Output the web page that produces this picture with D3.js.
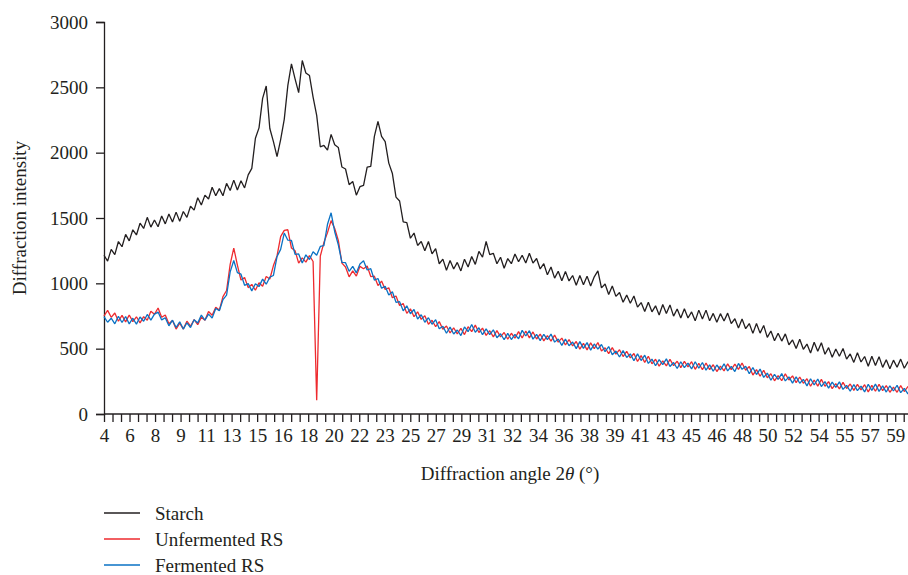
<!DOCTYPE html>
<html>
<head>
<meta charset="utf-8">
<script src="https://cdn.jsdelivr.net/npm/d3@7/dist/d3.min.js"></script>
<style>
  body { margin: 0; background: #fff; }
  text { font-family: "Liberation Serif", "Times New Roman", serif; fill: #231f20; }
</style>
</head>
<body>
<div id="chart"></div>
<script>
// canvas
const width = 908,
  height = 575

// diffraction angle grid, 0.25 degree step from 4 to 60
const angles = d3.range(4, 60.001, 0.25)

const starch = [
  1215,1170,1260,1220,1320,1280,1375,1325,
  1410,1370,1460,1420,1505,1430,1485,1433,
  1515,1455,1530,1470,1545,1475,1550,1505,
  1590,1560,1655,1600,1675,1645,1735,1670,
  1725,1670,1765,1710,1790,1715,1785,1730,
  1830,1880,2110,2190,2415,2510,2185,2085,
  1970,2100,2255,2515,2680,2565,2460,2705,
  2610,2590,2425,2285,2045,2055,2020,2140,
  2060,2040,1890,1875,1755,1780,1675,1740,
  1750,1890,1895,2125,2240,2125,2085,1920,
  1840,1660,1630,1470,1465,1345,1385,1290,
  1320,1250,1320,1225,1265,1150,1185,1100,
  1175,1110,1160,1095,1185,1125,1205,1145,
  1245,1200,1320,1220,1230,1150,1200,1115,
  1190,1150,1225,1165,1215,1155,1230,1155,
  1190,1110,1150,1065,1125,1040,1093,1020,
  1090,1018,1060,985,1060,990,1055,980,
  1050,1095,965,995,915,980,900,930,
  855,910,848,903,818,853,785,855,
  782,828,758,838,770,835,749,803,
  734,805,735,781,713,795,727,795,
  713,770,702,768,712,772,692,729,
  658,727,653,692,617,693,619,678,
  586,635,560,618,558,613,530,567,
  501,572,495,535,467,549,481,545,
  457,508,435,498,442,501,420,460,
  395,469,398,440,365,442,372,439,
  357,415,346,412,358,420,350,400,
  390
]

const unfermented = [
  750,793,740,773,710,755,705,758,
  707,744,697,745,718,787,763,811,
  740,758,690,715,650,696,650,710,
  672,722,684,740,718,784,756,816,
  795,898,945,1145,1270,1140,1025,1045,
  967,992,947,1005,978,1052,1033,1136,
  1210,1358,1405,1410,1270,1250,1155,1195,
  1162,1212,1167,105,1208,1312,1388,1480,
  1420,1328,1155,1125,1050,1095,1055,1130,
  1112,1132,1052,1055,983,1017,953,966,
  890,903,830,845,770,805,745,782,
  724,752,687,717,668,707,648,674,
  620,660,613,655,608,668,630,680,
  624,657,602,637,590,638,590,624,
  572,618,580,630,582,635,583,628,
  574,612,560,599,558,604,550,581,
  528,570,521,555,496,540,491,544,
  500,547,482,507,462,508,458,492,
  440,480,430,463,402,447,395,442,
  384,419,366,407,368,418,370,404,
  355,403,360,400,342,388,339,390,
  340,377,325,367,330,384,340,381,
  342,390,335,363,298,340,289,335,
  277,308,254,294,255,307,260,292,
  240,283,235,270,212,260,213,265,
  212,248,194,233,192,242,195,230,
  181,227,184,224,169,219,174,228,
  179,218,166,206,166,217,172,210,
  200
]

const fermented = [
  745,702,733,690,748,700,746,690,
  733,688,742,710,762,718,764,780,
  720,737,675,718,662,706,650,698,
  662,722,697,757,718,764,735,807,
  790,875,910,1088,1175,1082,1070,985,
  998,942,997,975,1032,993,1047,1060,
  1205,1260,1385,1330,1328,1222,1225,1155,
  1218,1182,1242,1215,1282,1288,1452,1540,
  1395,1295,1160,1158,1092,1130,1080,1148,
  1172,1102,1112,1025,1037,963,977,910,
  935,855,860,790,828,767,800,727,
  760,702,737,687,722,653,672,618,
  665,612,643,600,666,630,685,625,
  660,607,652,607,644,584,614,568,
  617,570,610,575,640,597,638,573,
  610,562,610,569,612,550,574,525,
  573,522,551,500,554,502,546,489,
  536,497,532,477,516,454,482,436,
  485,432,460,408,460,409,450,387,
  420,369,416,377,422,364,394,348,
  400,355,390,345,400,350,394,335,
  376,327,375,337,384,330,364,325,
  387,342,365,308,356,302,344,280,
  313,258,304,264,309,253,284,236,
  285,235,265,215,270,222,268,210,
  248,198,244,203,246,188,219,174,
  226,179,214,169,227,181,229,173,
  215,168,216,176,220,163,196,154,
  195
]

const seriesNames = ['Starch', 'Unfermented RS', 'Fermented RS']
const seriesColors = ['#231f20', '#ee2a2e', '#0a72c4']

const yTicks = [0, 500, 1000, 1500, 2000, 2500, 3000]
const xTickLabels = ['4','6','8','9','11','13','15','16','18','20','22','23','25','27','29','31',
  '32','34','36','38','39','41','43','45','46','48','50','52','54','55','57','59']
const xLabelStep = 1.77   // degrees between labelled ticks
const xMinorPerLabel = 3

const svg = d3.select('#chart')
  .append('svg')
  .attr('width', width)
  .attr('height', height)

const xScale = d3.scaleLinear()
  .domain([4, 60])
  .range([104, 911.5])

const yScale = d3.scaleLinear()
  .domain([0, 3000])
  .range([414, 22])

// x axis, a tick every third of a label step
const xTickVals = d3.range(xTickLabels.length * xMinorPerLabel - 1)
  .map(i => 4 + i * xLabelStep / xMinorPerLabel)

const xAxis = d3.axisBottom(xScale)
  .tickValues(xTickVals)
  .tickSize(8)
  .tickPadding(7)
  .tickFormat((d, i) => i % xMinorPerLabel === 0 ? xTickLabels[i / xMinorPerLabel] : '')

const gx = svg.append('g')
  .attr('transform', `translate(0,${yScale(0)})`)
  .call(xAxis)
gx.select('.domain').attr('d', `M${xScale(4)},0H${width}`)

const yAxis = d3.axisLeft(yScale)
  .tickValues(yTicks)
  .tickSize(8)
  .tickPadding(8)
  .tickFormat(d3.format('d'))

const gy = svg.append('g')
  .attr('transform', `translate(${xScale(4)},0)`)
  .call(yAxis)

svg.selectAll('.tick text')
  .style('font-size', '19px')
  .attr('fill', '#231f20')
svg.selectAll('.domain, .tick line')
  .attr('stroke', '#231f20')
  .attr('stroke-width', 1.3)

// lines
const line = d3.line()
  .x((d, i) => xScale(angles[i]))
  .y(d => yScale(d))

const allSeries = [starch, unfermented, fermented]
svg.append('g')
  .selectAll('path')
  .data(allSeries)
  .enter()
  .append('path')
  .attr('d', line)
  .attr('fill', 'none')
  .attr('stroke', (d, i) => seriesColors[i])
  .attr('stroke-width', 1.3)
  .attr('stroke-linejoin', 'bevel')

// axis titles
svg.append('text')
  .attr('x', 510)
  .attr('y', 480)
  .attr('text-anchor', 'middle')
  .style('font-size', '19px')
  .html('Diffraction angle 2<tspan font-style="italic">θ</tspan> (°)')

svg.append('text')
  .attr('transform', 'translate(26,218) rotate(-90)')
  .attr('text-anchor', 'middle')
  .style('font-size', '19px')
  .text('Diffraction intensity')

// legend
const legend = svg.append('g')
  .selectAll('g')
  .data(seriesNames)
  .enter()
  .append('g')
  .attr('transform', (d, i) => `translate(104,${513 + i * 26})`)

legend.append('line')
  .attr('x1', 0)
  .attr('x2', 36)
  .attr('stroke', (d, i) => seriesColors[i])
  .attr('stroke-width', 1.5)

legend.append('text')
  .attr('x', 51)
  .attr('dy', '0.35em')
  .style('font-size', '19px')
  .text(d => d)
</script>
</body>
</html>
